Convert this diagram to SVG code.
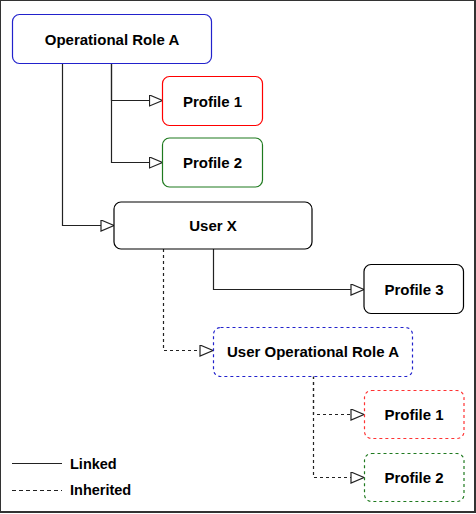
<svg xmlns="http://www.w3.org/2000/svg" width="476" height="514" viewBox="0 0 476 514">
  <style>
    .node rect { fill: #ffffff; stroke-width: 1.2; }
    .node text { font-family: "Liberation Sans", Arial, sans-serif; font-weight: bold; font-size: 15px; fill: #000000; text-anchor: middle; }
    .dash rect { stroke-dasharray: 3 3; }
    .link { fill: none; stroke: #222222; stroke-width: 1.2; marker-end: url(#arrow); }
    .inh { stroke-dasharray: 3 3; }
    .legend text { font-family: "Liberation Sans", Arial, sans-serif; font-weight: bold; font-size: 14.5px; fill: #000000; }
    .legend line { stroke: #222222; stroke-width: 1.2; }
  </style>
  <defs>
    <marker id="arrow" markerUnits="userSpaceOnUse" markerWidth="16" markerHeight="14" refX="14" refY="6" orient="auto">
      <path d="M1,0.5 L14,6 L1,11.5 Z" fill="#ffffff" stroke="#222222" stroke-width="1.2" stroke-dasharray="none"/>
    </marker>
  </defs>
  <rect x="0" y="0" width="475" height="512" fill="#ffffff" stroke="#333333" stroke-width="2"/>

  <g id="connectors">
    <path class="link" d="M111.5,64 V100.5 H162.5"/>
    <path class="link" d="M111.5,64 V162.5 H162.5"/>
    <path class="link" d="M62.5,64 V225.5 H114"/>
    <path class="link" d="M213.5,249 V289.5 H364"/>
    <path class="link inh" d="M163.5,249 V350.5 H213"/>
    <path class="link inh" d="M313.5,376 V414.5 H364"/>
    <path class="link inh" d="M313.5,376 V477.5 H364"/>
  </g>

  <g id="op-role-a" class="node">
    <rect x="12.5" y="14.5" width="199" height="49" rx="7" stroke="#2222cc"/>
    <text x="112" y="44.5">Operational Role A</text>
  </g>
  <g id="profile-1" class="node">
    <rect x="162.5" y="76.5" width="100" height="49" rx="7" stroke="#ff0000"/>
    <text x="212.5" y="106.5">Profile 1</text>
  </g>
  <g id="profile-2" class="node">
    <rect x="162.5" y="138" width="100" height="49" rx="7" stroke="#1f7a1f"/>
    <text x="212.5" y="168">Profile 2</text>
  </g>
  <g id="user-x" class="node">
    <rect x="114" y="202" width="198" height="47" rx="7" stroke="#000000"/>
    <text x="213" y="231">User X</text>
  </g>
  <g id="profile-3" class="node">
    <rect x="364" y="264.5" width="99.5" height="49" rx="7" stroke="#000000"/>
    <text x="414" y="294.5">Profile 3</text>
  </g>
  <g id="user-op-role-a" class="node dash">
    <rect x="213.5" y="327.5" width="199" height="49" rx="7" stroke="#2222cc"/>
    <text x="313" y="357">User Operational Role A</text>
  </g>
  <g id="inh-profile-1" class="node dash">
    <rect x="364.5" y="390.5" width="99.5" height="48" rx="7" stroke="#ff3333"/>
    <text x="414" y="419.5">Profile 1</text>
  </g>
  <g id="inh-profile-2" class="node dash">
    <rect x="364.5" y="453.5" width="99.5" height="48" rx="7" stroke="#1f7a1f"/>
    <text x="414" y="483">Profile 2</text>
  </g>

  <g id="legend" class="legend">
    <line x1="12" y1="463.5" x2="62" y2="463.5"/>
    <text x="70" y="468.5">Linked</text>
    <line x1="12" y1="490.5" x2="62" y2="490.5" stroke-dasharray="4 3"/>
    <text x="70" y="495">Inherited</text>
  </g>
</svg>
